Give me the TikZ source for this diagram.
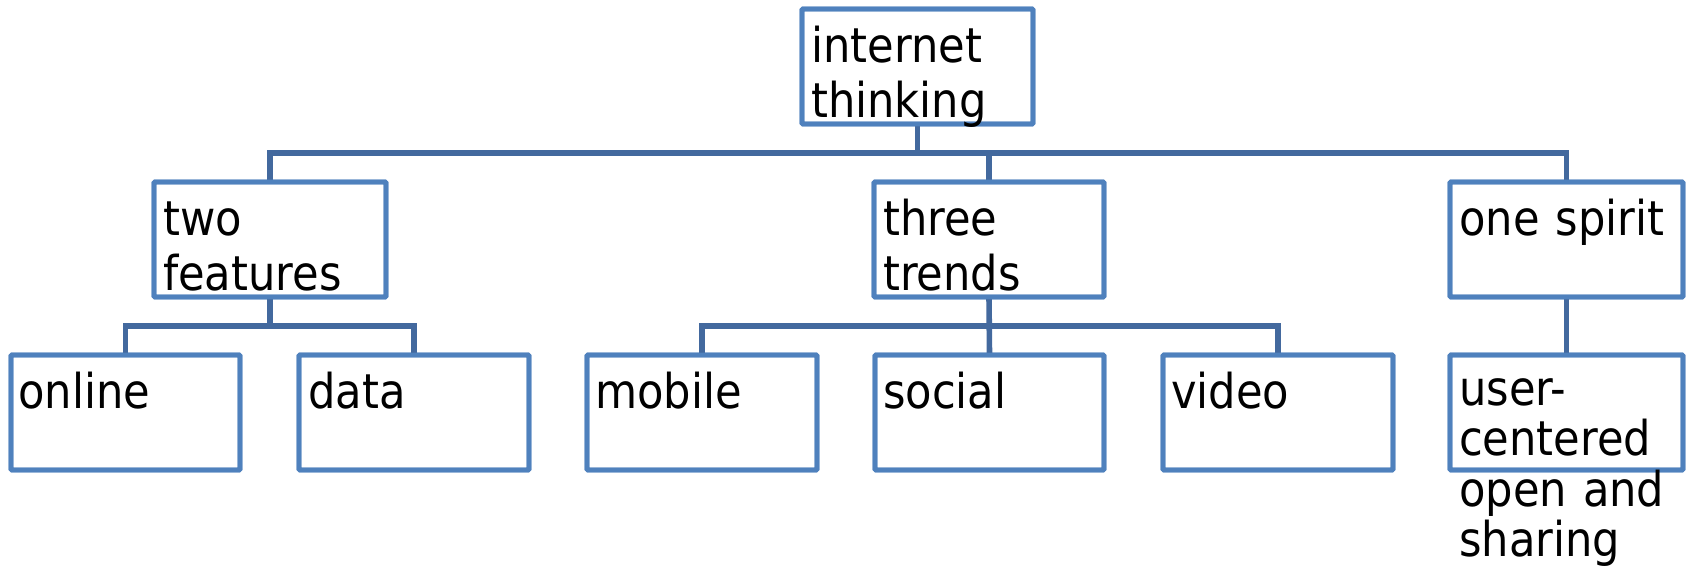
\documentclass[tikz,border=0pt]{standalone}
\usepackage{fontspec}
\setmainfont{DejaVu Sans}[FakeStretch=0.9]
\usetikzlibrary{calc}
\definecolor{boxblue}{HTML}{4F81BD}
\definecolor{linkblue}{HTML}{43699E}
\begin{document}
\begin{tikzpicture}[x=1pt,y=-1pt,
  box/.style={draw=boxblue,line width=4.8pt,rounded corners=1pt,fill=white,
    minimum width=#1,minimum height=115pt,inner sep=0pt,outer sep=0pt,anchor=north west},
  box/.default=230pt,
  conn/.style={draw=linkblue,line width=5.6pt},
  txt/.style={anchor=base west,inner sep=0pt,text width=260pt,align=left,
    font=\fontsize{48}{55}\selectfont}]
\useasboundingbox (0,0) rectangle (1689,566);
\coordinate (busA) at (0,153);
\coordinate (busB) at (0,326);
% boxes
\node[box=231pt] (root) at (802,9) {};
\node[box=232pt] (two) at (154,182) {};
\node[box=230pt] (three) at (874,182) {};
\node[box=233pt] (one) at (1450,182) {};
\node[box=229pt] (online) at (11,355) {};
\node[box=230pt] (data) at (299,355) {};
\node[box=230pt] (mobile) at (587,355) {};
\node[box=229pt] (social) at (875,355) {};
\node[box=230pt] (video) at (1163,355) {};
\node[box=233pt] (user) at (1450,355) {};
% level 1 -> level 2
\draw[conn] (root.south) -- (root.south |- busA);
\draw[conn] (two.north) |- (one.north |- busA) -- (one.north);
\draw[conn] (three.north) -- (three.north |- busA);
% level 2 -> level 3
\draw[conn] (two.south) -- (two.south |- busB);
\draw[conn] (online.north) |- (data.north |- busB) -- (data.north);
\draw[conn] (three.south) -- (social.north);
\draw[conn] (mobile.north) |- (video.north |- busB) -- (video.north);
\draw[conn] (one.south) -- (user.north);
% redraw box borders over connector ends
\foreach \n in {root,two,three,one,online,data,mobile,social,video,user}
  \draw[draw=boxblue,line width=4.8pt,rounded corners=1pt] (\n.north west) rectangle (\n.south east);
% texts
\node[txt] (rootT) at ($(root.north west)+(9,53)$) {internet\\thinking};
\node[txt] (twoT) at ($(two.north west)+(9,53)$) {two\\features};
\node[txt] (threeT) at ($(three.north west)+(9,53)$) {three\\trends};
\node[txt] (oneT) at ($(one.north west)+(9,53)$) {one spirit};
\node[txt] (onlineT) at ($(online.north west)+(7,53)$) {online};
\node[txt] (dataT) at ($(data.north west)+(9,53)$) {data};
\node[txt] (mobileT) at ($(mobile.north west)+(8,53)$) {mobile};
\node[txt] (socialT) at ($(social.north west)+(8,53)$) {social};
\node[txt] (videoT) at ($(video.north west)+(8,53)$) {video};
\node[txt,font=\fontsize{48}{50.5}\selectfont] (userT) at ($(user.north west)+(9,50)$) {user-\\centered\\open and\\sharing};
\end{tikzpicture}
\end{document}
